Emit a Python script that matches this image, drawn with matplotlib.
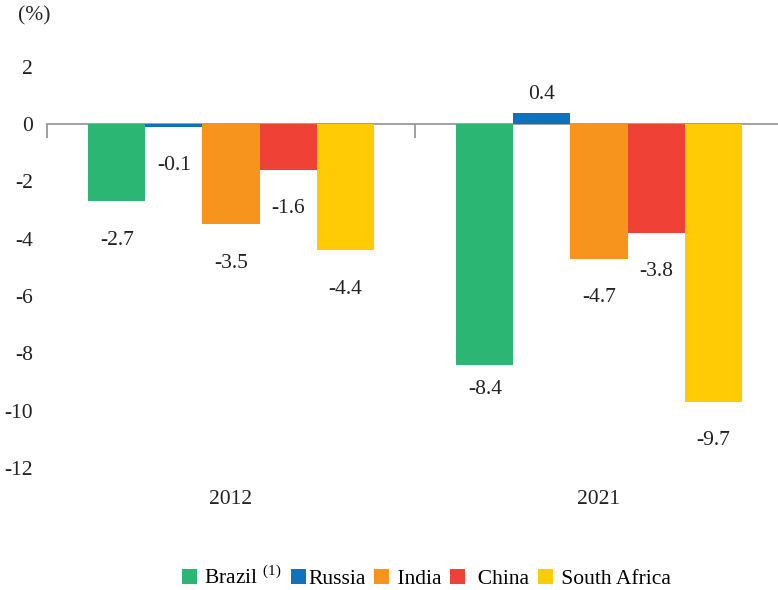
import matplotlib
matplotlib.use("Agg")
import matplotlib.pyplot as plt
import numpy as np

plt.rcParams['font.family'] = ['Liberation Serif', 'DejaVu Serif']
plt.rcParams['mathtext.fontset'] = 'custom'
plt.rcParams['mathtext.rm'] = 'Liberation Serif'
plt.rcParams['axes.unicode_minus'] = False
plt.rcParams['font.size'] = 15.5

years = ['2012', '2021']
countries = [' Brazil $^{\\mathrm{(1)}}$', 'Russia', ' India', '  China', ' South Africa']
colors = ['#2BB673', '#1072BD', '#F7941D', '#EF4136', '#FFCB05']
brazil = [-2.7, -8.4]
russia = [-0.1, 0.4]
india = [-3.5, -4.7]
china = [-1.6, -3.8]
south_africa = [-4.4, -9.7]
series = [brazil, russia, india, china, south_africa]

fig = plt.figure(figsize=(7.78, 5.9), dpi=100)
ax = fig.add_axes([47 / 778, 122 / 590, 736 / 778, (468 - 66.7) / 590])

x = np.arange(len(years))
w = 0.155
for i, (vals, c, lab) in enumerate(zip(series, colors, countries)):
    xs = x + (i - 2) * w
    ax.bar(xs, vals, width=w, color=c, label=lab, zorder=2)
    for xi, v in zip(xs, vals):
        if v > 0:
            off = 13
        elif v < -8 and v > -9:
            off = -18  # this one sits closer to its bar in the source
        else:
            off = -28
        ax.annotate(f"{v}", (xi, v), xytext=(0, off), textcoords='offset points',
                    ha='center', va='center', color='#222222')

ax.set_xlim(-0.5, 1.5)
ax.set_ylim(-12, 2)
ax.set_yticks(np.arange(-12, 3, 2))
ax.tick_params(axis='y', length=0, pad=10, labelcolor='#222222')

# zero line with category boundary ticks
for s in ['top', 'right', 'left']:
    ax.spines[s].set_visible(False)
ax.spines['bottom'].set_position(('data', 0))
ax.spines['bottom'].set_color('#999999')
ax.spines['bottom'].set_linewidth(1.3)
ax.spines['bottom'].set_zorder(1)
ax.set_xticks([-0.5, 0.5, 1.5])
ax.tick_params(axis='x', length=10, width=1.3, color='#999999', labelbottom=False)

sec = ax.secondary_xaxis('bottom')
sec.set_xticks(x, years)
sec.spines['bottom'].set_visible(False)
sec.tick_params(length=0, pad=16, labelcolor='#222222')

fig.text(18 / 778, 1 - 16 / 590, '(%)', va='center', ha='left', color='#222222')

ax.legend(loc='center', bbox_to_anchor=(0.548, 1 - 578 / 590), bbox_transform=fig.transFigure,
          ncol=5, frameon=False, handlelength=0.7, handleheight=0.7,
          handletextpad=0.1, columnspacing=0.42, borderaxespad=0)

fig.savefig('out.png', dpi=100)
